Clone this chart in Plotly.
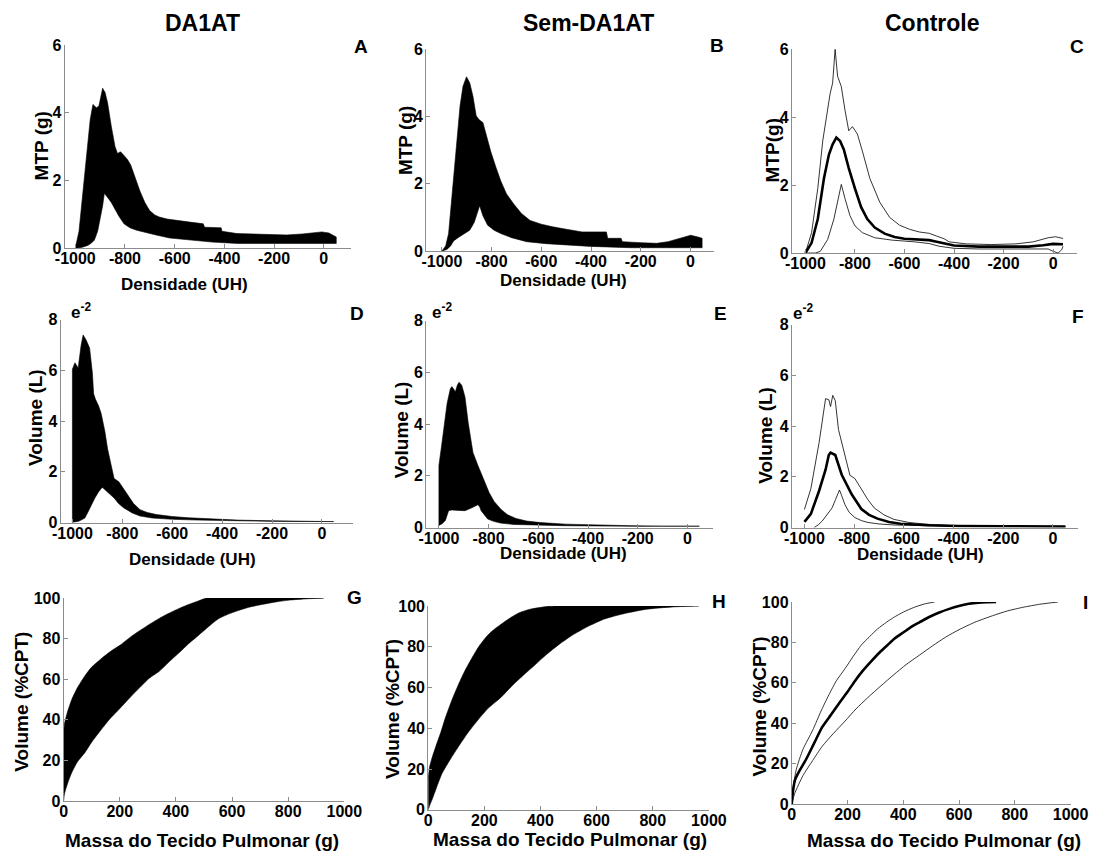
import plotly.graph_objects as go

W, H = 1110, 859

# ---------------- data ----------------
# Panel A (DA1AT, MTP) band envelope
A_up_x = [-1000, -985, -970, -955, -940, -929, -915, -905, -890, -880, -870, -855, -840, -830, -818, -805, -790, -777, -760, -740,
          -720, -701, -680, -662, -630, -596, -540, -485, -480, -413, -410, -349, -280, -217, -150, -86, -40, -8, 20, 44, 50]
A_up_y = [0, 0.5, 1.6, 2.8, 3.8, 4.25, 4.15, 4.2, 4.73, 4.6, 4.3, 3.6, 3.0, 2.8, 2.85, 2.75, 2.62, 2.46, 2.1, 1.69,
          1.35, 1.11, 0.98, 0.92, 0.86, 0.82, 0.77, 0.72, 0.62, 0.6, 0.5, 0.43, 0.41, 0.39, 0.39, 0.42, 0.46, 0.48, 0.45, 0.36,
          0.33]
A_lo_x = [-1000, -975, -950, -935, -923, -910, -900, -890, -883, -870, -855, -843, -825, -804, -780, -753, -720, -675, -620, -545,
          -450, -349, -200, -86, 0, 44, 50]
A_lo_y = [0, 0.02, 0.08, 0.15, 0.24, 0.5, 0.85, 1.25, 1.62, 1.5, 1.35, 1.21, 0.95, 0.72, 0.6, 0.53, 0.46, 0.39, 0.3, 0.24,
          0.18, 0.14, 0.12, 0.12, 0.13, 0.14, 0.14]

# Panel B (Sem-DA1AT, MTP)
B_up_x = [-1000, -985, -973, -960, -953, -940, -927, -915, -901, -888, -875, -862, -850, -835, -820, -803, -783, -763, -740, -711,
          -680, -645, -600, -554, -500, -436, -338, -333, -279, -274, -200, -136, -90, -44, 1, 30, 47]
B_up_y = [0, 0.15, 0.52, 1.6, 2.37, 3.34, 4.31, 4.9, 5.18, 5.0, 4.6, 4.02, 3.9, 3.82, 3.4, 2.95, 2.5, 2.08, 1.7, 1.4,
          1.12, 0.91, 0.8, 0.72, 0.65, 0.57, 0.57, 0.38, 0.38, 0.28, 0.25, 0.23, 0.28, 0.38, 0.47, 0.42, 0.38]
B_lo_x = [-1000, -980, -965, -953, -935, -915, -888, -870, -860, -848, -835, -816, -790, -763, -720, -659, -580, -502, -400, -240,
          -100, 0, 47]
B_lo_y = [0, 0.05, 0.15, 0.3, 0.4, 0.5, 0.62, 0.85, 1.1, 1.35, 1.05, 0.77, 0.62, 0.52, 0.4, 0.28, 0.22, 0.18, 0.14, 0.1,
          0.1, 0.1, 0.1]

# Panel C (Controle, MTP): upper, mean, lower
C_up_x = [-1000, -975, -950, -930, -915, -900, -890, -880, -870, -855, -840, -825, -810, -790, -770, -740, -700, -660, -620, -580,
          -540, -500, -470, -440, -420, -350, -250, -150, -80, -20, 10, 40]
C_up_y = [0, 0.6, 1.9, 3.3, 4.0, 4.7, 5.0, 6.0, 5.2, 4.9, 4.2, 3.6, 3.72, 3.5, 3.0, 2.2, 1.5, 1.05, 0.82, 0.7,
          0.62, 0.58, 0.5, 0.42, 0.33, 0.27, 0.25, 0.27, 0.33, 0.45, 0.48, 0.43]
C_mn_x = [-1000, -975, -950, -925, -905, -890, -875, -860, -845, -825, -800, -775, -750, -720, -680, -640, -600, -550, -500, -470,
          -430, -400, -300, -200, -100, -40, 0, 40]
C_mn_y = [0, 0.3, 1.0, 2.2, 2.9, 3.2, 3.4, 3.3, 3.05, 2.5, 1.9, 1.35, 1.0, 0.75, 0.57, 0.47, 0.42, 0.4, 0.38, 0.33,
          0.27, 0.22, 0.19, 0.18, 0.19, 0.23, 0.27, 0.26]
C_lo_x = [-1000, -960, -940, -910, -885, -865, -855, -840, -820, -800, -770, -720, -650, -560, -500, -460, -400, -300, -200, -100,
          -20, 0, 20, 35, 40]
C_lo_y = [0, 0, 0.05, 0.4, 1.0, 1.7, 2.02, 1.6, 1.1, 0.8, 0.6, 0.45, 0.38, 0.33, 0.28, 0.2, 0.14, 0.12, 0.12, 0.12,
          0.12, 0.05, 0.0, 0.1, 0.2]

# Panel D (DA1AT, Volume)
D_up_x = [-1000, -1000, -990, -982, -977, -965, -957, -945, -931, -920, -915, -908, -895, -885, -870, -859, -845, -833, -814, -800,
          -781, -755, -729, -700, -664, -600, -534, -440, -339, -200, -77, 47]
D_up_y = [0, 6.05, 6.3, 6.2, 6.1, 7.0, 7.4, 7.2, 6.88, 5.9, 5.08, 4.87, 4.6, 4.31, 3.6, 2.9, 2.3, 1.74, 1.61, 1.4,
          1.09, 0.75, 0.51, 0.4, 0.32, 0.24, 0.19, 0.14, 0.1, 0.07, 0.05, 0.04]
D_lo_x = [-1000, -975, -950, -936, -922, -910, -896, -884, -879, -860, -833, -815, -794, -760, -729, -680, -599, -500, -339, -200, 47]
D_lo_y = [0, 0.05, 0.18, 0.45, 0.7, 0.97, 1.2, 1.35, 1.38, 1.2, 0.97, 0.75, 0.58, 0.38, 0.26, 0.18, 0.13, 0.1, 0.06, 0.05, 0.04]

# Panel E (Sem-DA1AT, Volume)
E_up_x = [-1000, -1000, -990, -980, -967, -954, -948, -940, -934, -926, -919, -908, -895, -882, -863, -843, -830, -817, -798, -778,
          -750, -725, -690, -647, -590, -490, -350, -229, -100, 48]
E_up_y = [0.1, 2.4, 3.1, 3.79, 4.8, 5.37, 5.45, 5.35, 5.24, 5.5, 5.62, 5.5, 5.05, 4.04, 2.9, 2.4, 2.1, 1.77, 1.35, 1.01,
          0.7, 0.5, 0.35, 0.25, 0.19, 0.13, 0.09, 0.07, 0.05, 0.05]
E_lo_x = [-1000, -987, -974, -961, -948, -920, -895, -870, -843, -836, -830, -817, -804, -780, -752, -700, -621, -500, -229, 48]
E_lo_y = [0.08, 0.15, 0.27, 0.65, 0.68, 0.66, 0.65, 0.75, 0.88, 0.8, 0.65, 0.48, 0.33, 0.24, 0.17, 0.12, 0.09, 0.07, 0.05, 0.04]

# Panel F (Controle, Volume): upper, mean, lower
F_up_x = [-1000, -974, -941, -922, -915, -902, -895, -886, -876, -863, -843, -817, -797, -771, -745, -719, -680, -640, -580, -510,
          -380, -200, 50]
F_up_y = [0.71, 1.54, 3.35, 4.76, 5.08, 5.04, 4.77, 5.21, 5.0, 3.86, 3.09, 2.06, 1.93, 1.54, 1.1, 0.77, 0.5, 0.32, 0.2, 0.13,
          0.06, 0.04, 0.03]
F_mn_x = [-1000, -974, -941, -915, -902, -895, -876, -850, -810, -771, -740, -706, -660, -614, -500, -380, -200, 50]
F_mn_y = [0.22, 0.54, 1.45, 2.28, 2.86, 2.95, 2.86, 2.08, 1.31, 0.73, 0.5, 0.35, 0.22, 0.15, 0.09, 0.06, 0.05, 0.04]
F_lo_x = [-961, -945, -928, -910, -889, -875, -863, -859, -850, -837, -820, -797, -770, -745, -700, -640, -500, -380, -200, 50]
F_lo_y = [0.0, 0.1, 0.26, 0.48, 0.77, 1.1, 1.42, 1.48, 1.25, 0.9, 0.6, 0.39, 0.27, 0.2, 0.14, 0.1, 0.07, 0.05, 0.04, 0.03]

# Panel G (DA1AT, cumulative volume vs mass)
G_up_x = [0, 3, 12, 29, 50, 75, 100, 133, 165, 203, 240, 272, 305, 341, 375, 410, 445, 480, 510, 600, 700, 800, 926]
G_up_y = [33, 38, 43, 50, 56, 61.5, 66, 70, 73.5, 77, 81, 84, 87, 90, 92.5, 94.8, 96.8, 98.6, 100, 100, 100, 100, 100]
G_lo_x = [0, 3, 15, 29, 50, 75, 100, 133, 165, 203, 240, 272, 305, 341, 375, 411, 445, 480, 515, 550, 585, 619, 660, 712, 760, 804,
          860, 926]
G_lo_y = [0, 3.5, 9, 14, 19.5, 23.7, 29, 35, 40.5, 46, 51.5, 56, 60.5, 64, 68.5, 73, 77.5, 81.6, 85.8, 89.7, 92, 93.7, 95.5, 97,
          98.2, 99, 99.6, 100]

# Panel H (Sem-DA1AT)
H_up_x = [0, 5, 15, 27, 45, 61, 85, 108, 130, 154, 180, 212, 240, 270, 300, 327, 360, 397, 430, 466, 600, 800, 964]
H_up_y = [15, 21, 26, 31, 38, 45, 54, 61.5, 68, 74, 80, 85.6, 89, 92, 94.8, 96.8, 98.3, 99.2, 99.8, 100, 100, 100, 100]
H_lo_x = [0, 5, 15, 30, 50, 80, 108, 140, 177, 215, 258, 300, 339, 380, 420, 465, 513, 570, 628, 700, 779, 870, 964]
H_lo_y = [0, 2, 5.4, 11, 18, 25, 31, 37.5, 44, 50, 55, 61, 66, 71, 76, 81, 85.6, 90, 93.6, 96.3, 98.4, 99.5, 100]

# Panel I (Controle): upper, mean, lower
I_up_x = [0, 5, 16, 40, 75, 105, 133, 160, 191, 220, 249, 280, 308, 340, 366, 400, 436, 475, 512]
I_up_y = [0, 8, 17, 27, 36.5, 46, 54, 61, 67, 73, 78.6, 83, 86.7, 90, 92.4, 95, 97.2, 99, 100]
I_mn_x = [0, 4, 12, 30, 51, 80, 109, 140, 168, 200, 226, 255, 284, 315, 343, 370, 401, 430, 459, 495, 529, 565, 599, 635, 669,
          700, 733]
I_mn_y = [0, 6, 12, 17, 22, 30, 38, 44, 49.5, 55.5, 60.8, 66, 70.5, 75, 78.6, 82, 85, 87.8, 90, 92.7, 94.8, 96.6, 98, 99.1, 99.7,
          99.9, 100]
I_lo_x = [0, 10, 40, 75, 109, 150, 191, 230, 273, 320, 366, 410, 459, 505, 552, 600, 657, 720, 774, 830, 890, 955]
I_lo_y = [0, 5, 14, 21.5, 28.5, 35, 41, 47, 52.7, 58.5, 64, 69, 73.8, 78.3, 82.6, 86.3, 90, 93.2, 95.6, 97.4, 98.9, 100]

col_titles = ["DA1AT", "Sem-DA1AT", "Controle"]
panel_letters = ["A", "B", "C", "D", "E", "F", "G", "H", "I"]
dens_ticks = [-1000, -800, -600, -400, -200, 0]
mtp_ticks = [0, 2, 4, 6]
vol_ticks = [0, 2, 4, 6, 8]
pct_ticks = [0, 20, 40, 60, 80, 100]
mass_ticks = [0, 200, 400, 600, 800, 1000]

# ---------------- figure ----------------
FONT = "Liberation Sans, Arial, Helvetica, sans-serif"
AX_COL = "#8c8c8c"

# panel geometry in pixels: (left, right, top, bottom) and x range
geom = [
    (56, 350, 38, 245, [-1043, 110]), (427, 722, 42, 248, [-1063, 94]), (802, 1095, 42, 250, [-1055, 98]),
    (52, 352, 318, 525, [-1047, 125]), (427, 721, 319, 530, [-1051, 102]), (802, 1096, 323, 530, [-1051, 102]),
    (55, 343, 602, 809, [0, 1000]), (429, 717, 610, 818, [0, 1000]), (802, 1088, 606, 812, [0, 1000]),
]

fig = go.Figure()

def band(i, ux, uy, lx, ly, shape="linear"):
    n = "" if i == 0 else str(i + 1)
    fig.add_trace(go.Scatter(
        x=list(ux) + list(lx)[::-1], y=list(uy) + list(ly)[::-1],
        mode="lines", fill="toself", fillcolor="black",
        line=dict(color="black", width=0.6, shape=shape, smoothing=0.6), hoverinfo="skip",
        xaxis="x" + n, yaxis="y" + n, showlegend=False))

def line(i, x, y, w, shape="linear"):
    n = "" if i == 0 else str(i + 1)
    fig.add_trace(go.Scatter(x=x, y=y, mode="lines",
                             line=dict(color="black", width=w, shape=shape, smoothing=0.6),
                             xaxis="x" + n, yaxis="y" + n, showlegend=False))

band(0, A_up_x, A_up_y, A_lo_x, A_lo_y)
band(1, B_up_x, B_up_y, B_lo_x, B_lo_y)
line(2, C_up_x, C_up_y, 0.8); line(2, C_mn_x, C_mn_y, 2.6); line(2, C_lo_x, C_lo_y, 0.8)
band(3, D_up_x, D_up_y, D_lo_x, D_lo_y)
band(4, E_up_x, E_up_y, E_lo_x, E_lo_y)
line(5, F_up_x, F_up_y, 0.8); line(5, F_mn_x, F_mn_y, 2.6); line(5, F_lo_x, F_lo_y, 0.8)
band(6, G_up_x, G_up_y, G_lo_x, G_lo_y, "spline")
band(7, H_up_x, H_up_y, H_lo_x, H_lo_y, "spline")
line(8, I_up_x, I_up_y, 0.8, "spline"); line(8, I_mn_x, I_mn_y, 2.6, "spline"); line(8, I_lo_x, I_lo_y, 0.8, "spline")

tickfont = dict(family=FONT, size=16, color="black", weight="bold")
layout = dict(width=W, height=H, margin=dict(l=0, r=0, t=0, b=0),
              paper_bgcolor="white", plot_bgcolor="white", showlegend=False)

for i, (l, r, t, b, xr) in enumerate(geom):
    n = "" if i == 0 else str(i + 1)
    row = i // 3
    if row < 2:
        xt = dens_ticks
        yr, yt = ([0, 6], mtp_ticks) if row == 0 else ([0, 8], vol_ticks)
    else:
        xt = mass_ticks
        yr, yt = [0, 100], pct_ticks
    common = dict(showgrid=False, zeroline=False, showline=True, linecolor=AX_COL, linewidth=1,
                  ticks="inside", ticklen=4, tickcolor=AX_COL, tickfont=tickfont, fixedrange=True)
    layout["xaxis" + n] = dict(domain=[l / W, r / W], range=xr, tickvals=xt, ticklabelstandoff=-4,
                               ticktext=[str(v) for v in xt], anchor="y" + n, **common)
    layout["yaxis" + n] = dict(domain=[1 - b / H, 1 - t / H], range=yr, tickvals=yt, ticklabelstandoff=-1,
                               ticktext=[str(v) for v in yt], anchor="x" + n, **common)

fig.update_layout(**layout)

def ann(text, x, y, size, angle=0):
    fig.add_annotation(text="<b>" + text + "</b>", x=x / W, y=1 - y / H, xref="paper", yref="paper",
                       showarrow=False, xanchor="center", yanchor="middle", textangle=angle,
                       font=dict(family=FONT, size=size, color="black"))

# column titles
for txt, cx in zip(col_titles, [197, 593, 946]):
    ann(txt, cx, 15, 23)
# panel letters
for txt, (cx, cy) in zip(panel_letters, [(360, 39), (725, 38), (1095, 39), (356, 312), (729, 312), (1096, 315),
                                          (353, 601), (727, 605), (1103, 606)]):
    ann(txt, cx, cy, 19)
# y labels
ann("MTP (g)", 32, 141, 19, -90)
ann("MTP (g)", 406, 135, 19, -90)
ann("MTP(g)", 782, 145, 19, -90)
ann("Volume (L)", 26, 418, 19, -90)
ann("Volume (L)", 402, 430, 19, -90)
ann("Volume (L)", 775, 436, 19, -90)
ann("Volume (%CPT)", 12, 708, 19, -90)
ann("Volume (%CPT)", 393, 715, 19, -90)
ann("Volume (%CPT)", 769, 713, 19, -90)
# x labels
ann("Densidade (UH)", 179, 282, 17)
ann("Densidade (UH)", 568, 278, 17)
ann("Densidade (UH)", 187, 563, 17)
ann("Densidade (UH)", 568, 557, 17)
ann("Densidade (UH)", 934, 558, 17)
ann("Massa do Tecido Pulmonar (g)", 197, 849, 19)
ann("Massa do Tecido Pulmonar (g)", 574, 848, 19)
ann("Massa do Tecido Pulmonar (g)", 958, 849, 19)
# exponent markers
for cx, cy in [(73, 309), (443, 309), (814, 310)]:
    ann("e<sup>-2</sup>", cx, cy, 17)

fig.write_html("out.html")
